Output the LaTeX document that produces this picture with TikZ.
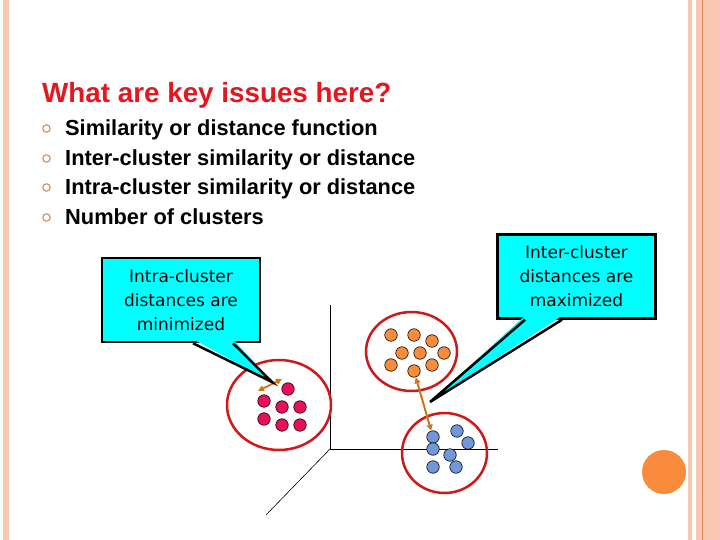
\documentclass[tikz,border=0pt]{standalone}
\usepackage{fontspec}
\setmainfont{Liberation Sans}
\newfontfamily\calloutfont{DejaVu Sans}
\usepackage{tikz}
\usetikzlibrary{arrows.meta, positioning}
\definecolor{titlered}{HTML}{E2171F}
\definecolor{bandsalmon}{HTML}{F9C8B4}
\definecolor{bandline}{HTML}{E08A5A}
\definecolor{bulletorange}{HTML}{D0844A}
\definecolor{boxcyan}{HTML}{00FFFF}
\definecolor{ringred}{HTML}{D01818}
\definecolor{dotred}{HTML}{E8105C}
\definecolor{dotorange}{HTML}{F98C3C}
\definecolor{dotblue}{HTML}{7196DA}
\definecolor{arrowbrown}{HTML}{C8781E}
\tikzset{
  heading/.style={anchor=base west, inner sep=0pt, text=titlered,
                  font=\bfseries\fontsize{27.8}{32}\selectfont},
  itemtext/.style={anchor=base west, inner sep=0pt,
                   font=\bfseries\fontsize{21.8}{26}\selectfont},
  bulletmark/.style={circle, draw=bulletorange, line width=1pt,
                     minimum size=7.5pt, inner sep=0pt},
  callout/.style={rectangle, draw=black, fill=boxcyan, line width=2.5pt,
                  minimum width=158pt, minimum height=84pt, align=center,
                  font=\calloutfont\fontsize{17}{24}\selectfont},
  pointer/.style={draw=black, line width=2.5pt, line join=miter},
  ring/.style={draw=ringred, line width=2.5pt},
  axis/.style={draw=black, line width=1pt},
  pt/.style={circle, draw=black, line width=0.6pt, minimum size=12.5pt, inner sep=0pt},
  reddot/.style={pt, fill=dotred},
  orangedot/.style={pt, fill=dotorange},
  bluedot/.style={pt, fill=dotblue},
  gaparrow/.style={{Triangle[length=6pt,width=6pt]}-{Triangle[length=6pt,width=6pt]},
                   draw=arrowbrown, line width=2pt},
}
\begin{document}
\begin{tikzpicture}[x=1pt, y=-1pt]
  \useasboundingbox (0,0) rectangle (720,540);
  \fill[white] (0,0) rectangle (720,540);

  % slide border
  \fill[bandsalmon] (3,0) rectangle (9,540);
  \fill[bandsalmon] (688,0) rectangle (692,540);
  \fill[bandsalmon] (696,0) rectangle (720,540);
  \draw[bandline, line width=0.8pt] (702.5,0) -- (702.5,540);
  \fill[dotorange] (664,472) circle (22pt);

  % title and bullets
  \node[heading] (title) at (42,103) {What are key issues here?};
  \foreach \yb/\txt [count=\i] in {136/Similarity or distance function,
      166/Inter-cluster similarity or distance,
      195/Intra-cluster similarity or distance,
      225/Number of clusters} {
    \node[bulletmark] (mark\i) at (46.5,\yb-7.5) {};
    \node[itemtext] (item\i) at (65,\yb) {\txt};
  }

  % axes
  \coordinate (origin) at (330,449);
  \coordinate (yend) at (330,305);
  \coordinate (xend) at (498,449);
  \coordinate (zend) at (266,515);
  \draw[axis] (yend) -- (origin) -- (xend);
  \draw[black, line width=0.6pt] (origin) -- (zend);

  % clusters
  \draw[ring] (279,405) ellipse [x radius=52pt, y radius=45pt];
  \draw[ring] (411.5,351.5) ellipse [x radius=45.5pt, y radius=39.5pt];
  \draw[ring] (444.5,453) ellipse [x radius=42.5pt, y radius=40pt];

  \foreach \x/\y [count=\i] in {288/389, 264/401, 282/407, 300/407,
      264/419, 282/425, 300/425}
    \node[reddot] (r\i) at (\x,\y) {};
  \foreach \x/\y [count=\i] in {391/335, 414/335, 432/341, 402/353,
      420/353, 444/353, 391/365, 432/365, 414/371}
    \node[orangedot] (o\i) at (\x,\y) {};
  \foreach \x/\y [count=\i] in {457/431, 433/437, 468/443, 433/449,
      450/455, 433/467, 456/467}
    \node[bluedot] (b\i) at (\x,\y) {};

  % distances
  \coordinate (intraA) at (258,391);
  \coordinate (intraB) at (282,379);
  \draw[gaparrow] (intraA) -- (intraB);
  \draw[gaparrow] (o9) -- (b2);

  % callouts
  \node[callout] (intra) at (181,300) {Intra-cluster\\distances are\\minimized};
  \coordinate (intratip) at (272,382);
  \fill[boxcyan] ([xshift=12pt, yshift=4pt]intra.south) -- (intratip)
    -- ([xshift=52pt, yshift=4pt]intra.south) -- cycle;
  \draw[pointer] ([xshift=12pt]intra.south) -- (intratip) -- ([xshift=52pt]intra.south);

  \node[callout] (inter) at (576.5,276.5) {Inter-cluster\\distances are\\maximized};
  \coordinate (intertip) at (430,402);
  \fill[boxcyan] ([xshift=-51.5pt, yshift=4pt]inter.south) -- (intertip)
    -- ([xshift=-14.5pt, yshift=4pt]inter.south) -- cycle;
  \draw[pointer] ([xshift=-51.5pt]inter.south) -- (intertip) -- ([xshift=-14.5pt]inter.south);
\end{tikzpicture}
\end{document}
